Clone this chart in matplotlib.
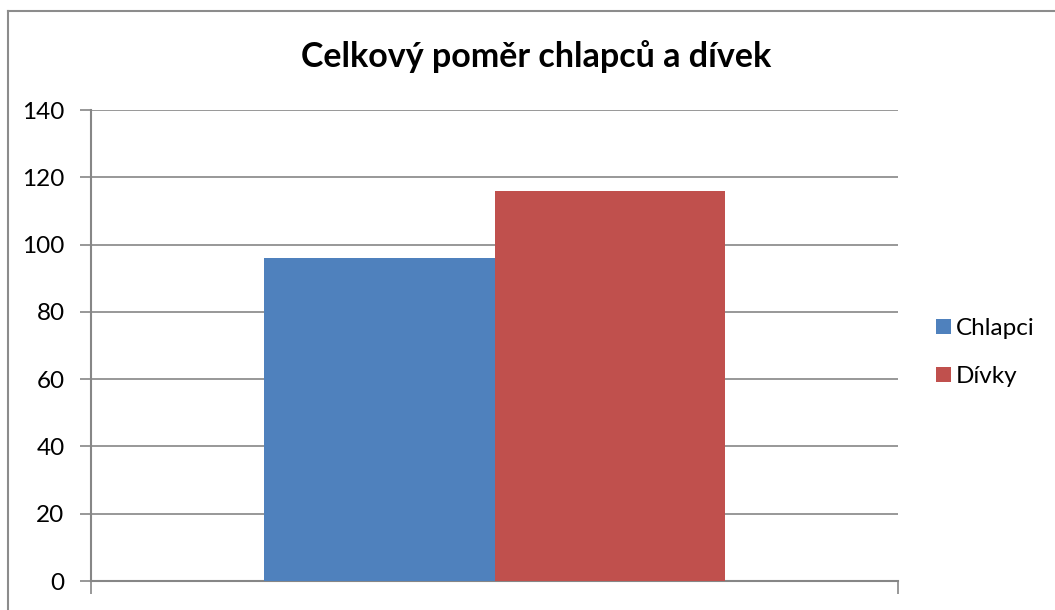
import numpy as np
import matplotlib.pyplot as plt
from matplotlib.lines import Line2D

# data
series_names = ["Chlapci", "Dívky"]
series_values = [96, 116]
series_colors = ["#4F81BD", "#C0504D"]
y_ticks = [0, 20, 40, 60, 80, 100, 120, 140]
title_text = "Celkový poměr chlapců a dívek"

plt.rcParams['font.family'] = ['Lato', 'DejaVu Sans']

W, H = 1055, 610
fig = plt.figure(figsize=(W / 100, H / 100), dpi=100)

# outer chart border (only top and left visible)
fig.add_artist(Line2D([8 / W, 8 / W], [0, 1 - 11 / H], transform=fig.transFigure,
                      color="#8c8c8c", lw=1.5))
fig.add_artist(Line2D([8 / W, 1], [1 - 11 / H, 1 - 11 / H], transform=fig.transFigure,
                      color="#8c8c8c", lw=1.5))

# plot area in pixels
left, right, top, bottom = 91, 898, 110, 581
ax = fig.add_axes([left / W, 1 - bottom / H, (right - left) / W, (bottom - top) / H])

grid_color = "#868686"
bar_w = 0.2857
offsets = [-bar_w / 2, bar_w / 2]
for name, val, col, off in zip(series_names, series_values, series_colors, offsets):
    ax.bar(off, val, width=bar_w, color=col, label=name, zorder=3)

ax.set_xlim(-0.5, 0.5)
ax.set_ylim(0, 140)
ax.set_yticks(y_ticks)
ax.set_yticklabels([str(t) for t in y_ticks], fontsize=17.5)
ax.set_xticks([-0.5, 0.5])
ax.set_xticklabels([])
ax.yaxis.grid(True, color=grid_color, lw=1.2, zorder=0)

for s in ["top", "right"]:
    ax.spines[s].set_visible(False)
for s in ["left", "bottom"]:
    ax.spines[s].set_color(grid_color)
    ax.spines[s].set_linewidth(1.5)
ax.tick_params(axis="y", length=8, width=1.2, color=grid_color, pad=11)
ax.tick_params(axis="x", length=9, width=1.2, color=grid_color)

fig.text(536 / W, 1 - 57 / H, title_text, fontsize=24.5, fontweight="bold",
         ha="center", va="center")

leg = ax.legend(loc="center left", bbox_to_anchor=(1.02, 0.485), frameon=False,
                fontsize=17.5, handlelength=0.6, handleheight=0.6, handletextpad=0.2,
                labelspacing=1.1)

fig.savefig("out.png", dpi=100, facecolor="white")
